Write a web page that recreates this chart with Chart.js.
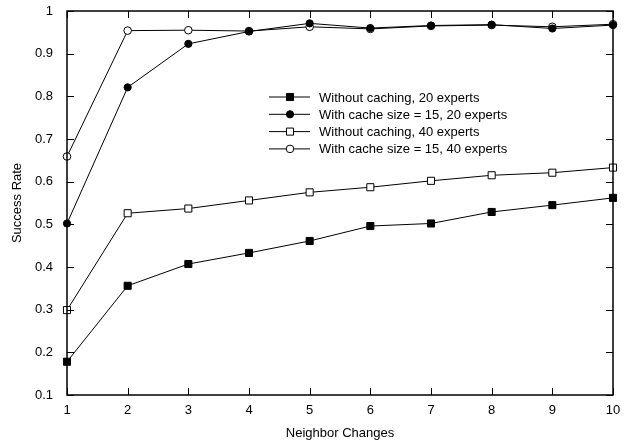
<!DOCTYPE html>
<html>
<head>
<meta charset="utf-8">
<script src="https://cdn.jsdelivr.net/npm/chart.js@4/dist/chart.umd.min.js"></script>
<style>
  body { margin: 0; background: #fff; }
</style>
</head>
<body>
<canvas id="myChart" width="627" height="441"></canvas>
<script>
const categories = [1, 2, 3, 4, 5, 6, 7, 8, 9, 10];
const noCache20 = [0.178, 0.356, 0.407, 0.433, 0.461, 0.496, 0.502, 0.529, 0.545, 0.562];
const cache20 = [0.502, 0.821, 0.923, 0.952, 0.971, 0.960, 0.966, 0.968, 0.959, 0.967];
const noCache40 = [0.299, 0.526, 0.537, 0.556, 0.575, 0.587, 0.602, 0.615, 0.621, 0.633];
const cache40 = [0.659, 0.954, 0.955, 0.953, 0.963, 0.958, 0.965, 0.967, 0.963, 0.969];
const yTicks = [0.1, 0.2, 0.3, 0.4, 0.5, 0.6, 0.7, 0.8, 0.9, 1];
const labels = [
  "Without caching, 20 experts",
  "With cache size = 15, 20 experts",
  "Without caching, 40 experts",
  "With cache size = 15, 40 experts",
];

const FONT = "'Liberation Sans', Arial, sans-serif";

function pts(values) {
  return categories.map((c, i) => ({ x: c, y: values[i] }));
}

function series(label, values, style, filled, radius) {
  return {
    label: label,
    data: pts(values),
    borderColor: "#000",
    borderWidth: 1,
    pointStyle: style,
    pointRadius: radius,
    pointHoverRadius: radius,
    pointBorderWidth: 1,
    pointBorderColor: "#000",
    pointBackgroundColor: filled ? "#000" : "#fff",
    tension: 0,
    clip: false,
  };
}

// frame with inward ticks on all four sides, and the legend inside the plot
const framePlugin = {
  id: "frame",
  afterDatasetsDraw(chart) {
    const { ctx, chartArea: a, scales } = chart;
    const t = 7;
    ctx.save();
    ctx.strokeStyle = "#000";
    ctx.lineWidth = 1;
    ctx.beginPath();
    categories.forEach((c) => {
      const x = Math.round(scales.x.getPixelForValue(c)) + 0.5;
      ctx.moveTo(x, a.bottom); ctx.lineTo(x, a.bottom - t);
      ctx.moveTo(x, a.top); ctx.lineTo(x, a.top + t);
    });
    yTicks.forEach((v) => {
      const y = Math.round(scales.y.getPixelForValue(v)) + 0.5;
      ctx.moveTo(a.left, y); ctx.lineTo(a.left + t, y);
      ctx.moveTo(a.right, y); ctx.lineTo(a.right - t, y);
    });
    ctx.stroke();
    ctx.lineWidth = 1.5;
    ctx.strokeRect(a.left, a.top, a.right - a.left, a.bottom - a.top);

    // legend
    const lx = a.left + 202, ly = a.top + 86, gap = 17.3;
    ctx.font = "13px " + FONT;
    ctx.textBaseline = "middle";
    ctx.textAlign = "left";
    chart.data.datasets.forEach((ds, i) => {
      const y = ly + i * gap;
      ctx.lineWidth = 1;
      ctx.strokeStyle = "#000";
      ctx.beginPath();
      ctx.moveTo(lx, y); ctx.lineTo(lx + 41, y);
      ctx.stroke();
      ctx.fillStyle = ds.pointBackgroundColor;
      Chart.helpers.drawPoint(ctx, {
        pointStyle: ds.pointStyle, radius: ds.pointRadius, rotation: 0, borderWidth: 1,
      }, lx + 21, y);
      ctx.fillStyle = "#000";
      ctx.fillText(ds.label, lx + 50, y + 1);
    });
    ctx.restore();
  },
};

const ctx = document.getElementById("myChart").getContext("2d");
const myChart = new Chart(ctx, {
  type: "line",
  data: {
    datasets: [
      series(labels[0], noCache20, "rect", true, 5),
      series(labels[1], cache20, "circle", true, 3.6),
      series(labels[2], noCache40, "rect", false, 5),
      series(labels[3], cache40, "circle", false, 3.8),
    ],
  },
  options: {
    responsive: false,
    animation: false,
    layout: { padding: { top: 11, right: 14, left: 0, bottom: 0 } },
    plugins: { legend: { display: false }, tooltip: { enabled: false } },
    scales: {
      x: {
        type: "linear",
        min: 1,
        max: 10,
        afterFit(scale) {
          scale.height = 46;
          scale.paddingLeft = 0;
          scale.paddingRight = 0;
        },
        grid: { display: false, drawTicks: false },
        border: { display: false },
        ticks: {
          stepSize: 1,
          padding: 8,
          color: "#000",
          font: { family: FONT, size: 13 },
        },
        title: {
          display: true,
          text: "Neighbor Changes",
          color: "#000",
          font: { family: FONT, size: 13 },
          padding: { top: 3, bottom: 0 },
        },
      },
      y: {
        min: 0.1,
        max: 1,
        afterFit(scale) {
          scale.width = 67;
          scale.paddingTop = 0;
          scale.paddingBottom = 0;
        },
        afterBuildTicks(scale) { scale.ticks = yTicks.map((v) => ({ value: v })); },
        grid: { display: false, drawTicks: false },
        border: { display: false },
        ticks: {
          padding: 14,
          color: "#000",
          font: { family: FONT, size: 13 },
          callback: (v) => String(+v.toFixed(1)),
        },
        title: {
          display: true,
          text: "Success Rate",
          color: "#000",
          font: { family: FONT, size: 13 },
          padding: { top: 10, bottom: 0 },
        },
      },
    },
  },
  plugins: [framePlugin],
});
</script>
</body>
</html>
